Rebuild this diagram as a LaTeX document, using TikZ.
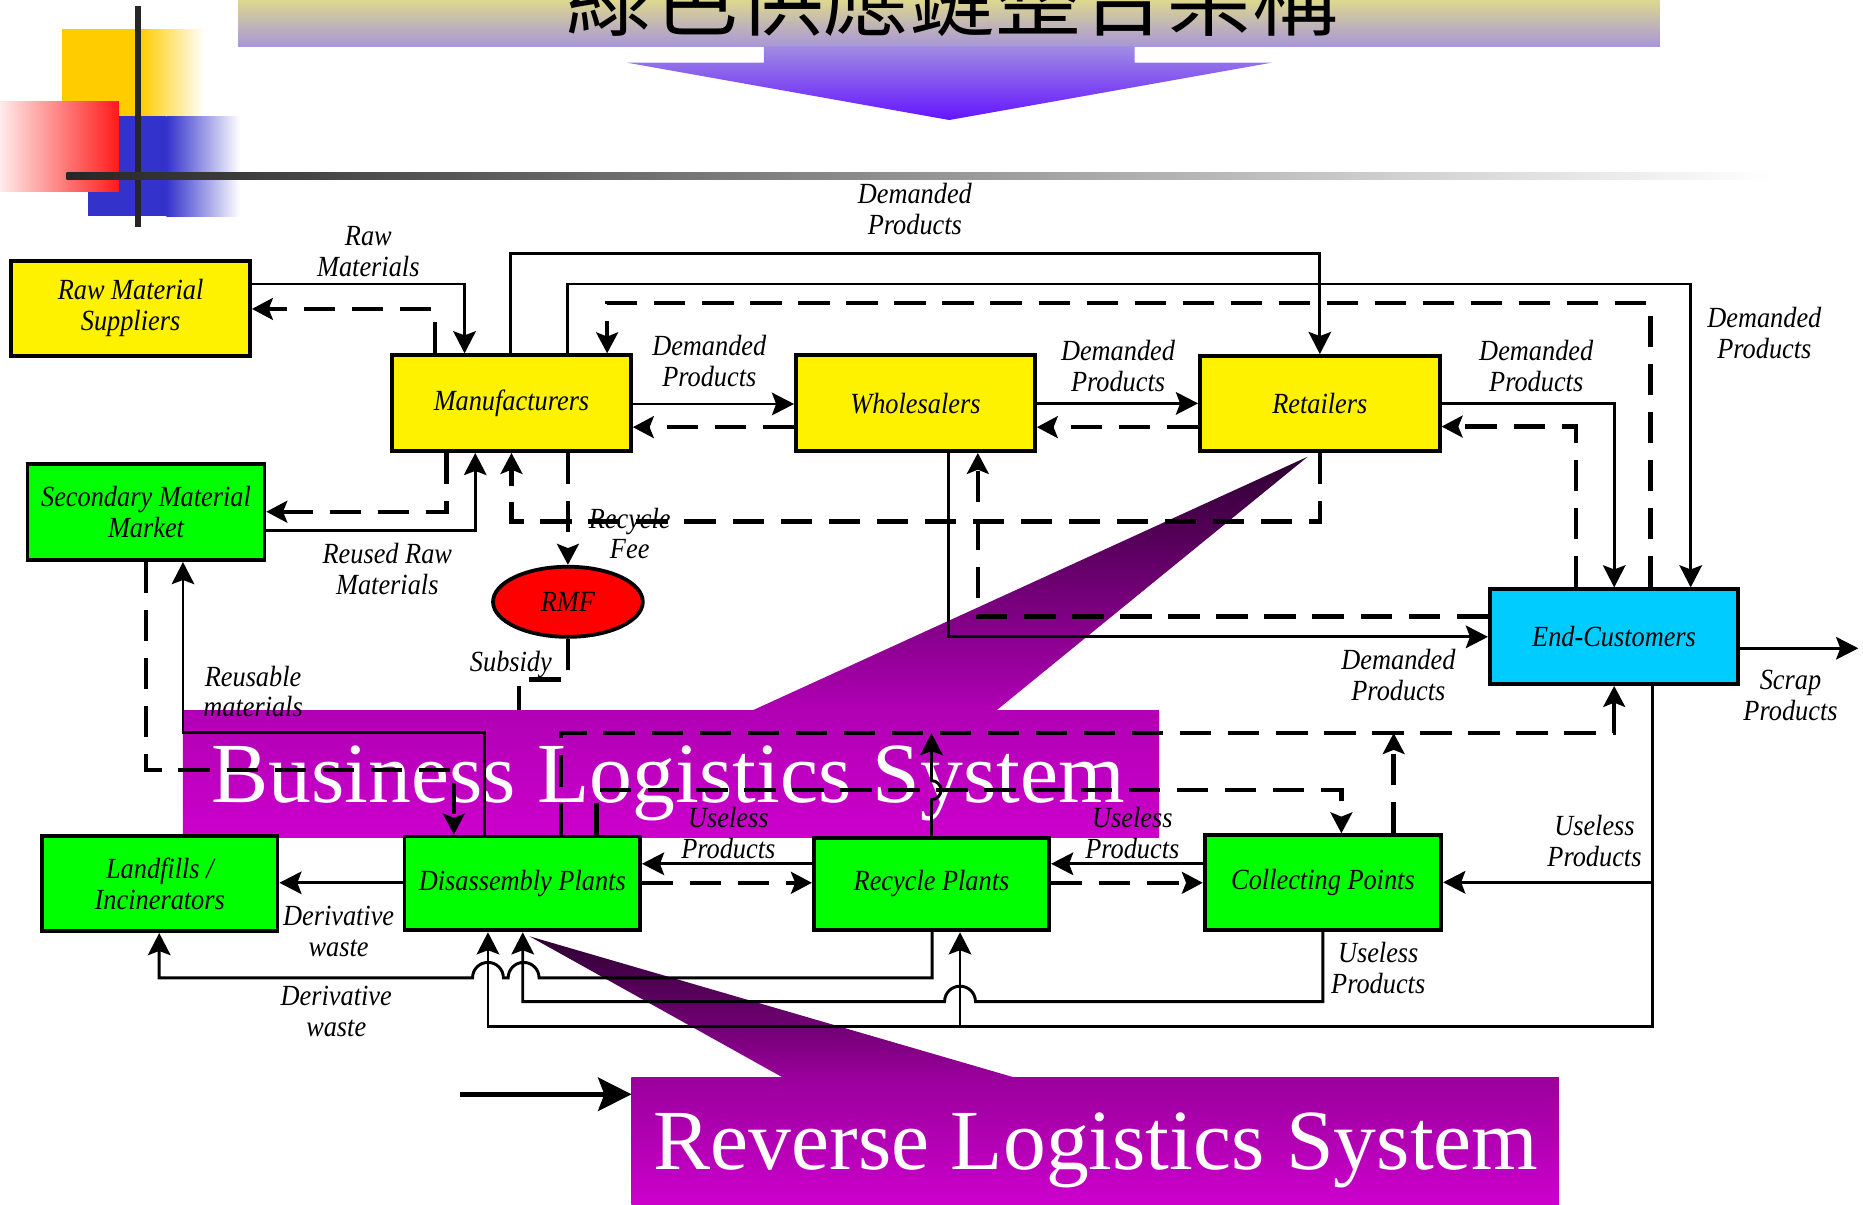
\documentclass[tikz,border=0pt]{standalone}
\usepackage{fontspec}
\setmainfont{Liberation Serif}
\newfontfamily\lbl[FakeStretch=0.9]{Liberation Serif}
\newfontfamily\cjk{Noto Sans CJK TC}
\usetikzlibrary{arrows.meta,shapes.geometric}
\definecolor{ttop}{HTML}{DDD88E}
\definecolor{tbot}{HTML}{A796DA}
\definecolor{atop}{HTML}{A08CE2}
\definecolor{abot}{HTML}{6414FF}
\definecolor{bltop}{HTML}{B000B4}
\definecolor{blbot}{HTML}{CC00CC}
\definecolor{rltop}{HTML}{9A009C}
\definecolor{rlbot}{HTML}{CC00CC}
\definecolor{tailc}{HTML}{2C0030}
\definecolor{ecblue}{HTML}{00CCFF}
\definecolor{decoyel}{HTML}{FFCC00}
\definecolor{decoblue}{HTML}{3333CC}
\definecolor{decored}{HTML}{FF1A1A}
\begin{document}
\begin{tikzpicture}[x=0.01cm,y=-0.01cm,
  stbox/.style={draw=black, line width=0.9pt, inner sep=0pt, align=center, font=\lbl\itshape\fontsize{7}{7.4}\selectfont},
  lab/.style={inner sep=0pt, align=center, font=\lbl\itshape\fontsize{7}{7.4}\selectfont},
  sol/.style={line width=0.7pt, -{Stealth[length=5.3pt,width=5.4pt,inset=1pt]}},
  dsh/.style={line width=1.05pt, dash pattern=on 7.5pt off 4pt, -{Stealth[length=5pt,width=5.2pt,inset=1pt]}},
  dshplain/.style={line width=1.05pt, dash pattern=on 7.5pt off 4pt},
  bigtxt/.style={text=white, inner sep=0pt, font=\fontsize{20.5}{24}\selectfont}
]
\useasboundingbox (0,0) rectangle (1568,1013.4);
\fill[white] (0,0) rectangle (1568,1013.4);

% decorations
\fill[decoyel] (52,24.4) rectangle (118,100);
\shade[left color=decoyel, right color=white] (118,24.4) rectangle (172,100);
\fill[decoblue] (74,98) rectangle (140,182);
\shade[left color=decoblue, right color=white] (140,98) rectangle (202,182);
\shade[left color=white!92!red, right color=decored] (0,85.5) rectangle (100,161);
\draw[line width=1.3pt, color=black!85] (116,5) -- (116,191);
\shade[left color=black!85, right color=white] (56,145) rectangle (1490,151);

% title
\shade[top color=ttop, bottom color=tbot] (200.5,0) rectangle (1397,39.3);
\shade[top color=atop, bottom color=abot] (643,39) -- (955,39) -- (955,52.8) -- (1070,52.8) -- (799,101) -- (528,52.8) -- (643,52.8) -- cycle;
\node[anchor=base, inner sep=0pt, font=\cjk\fontsize{20.5}{22}\selectfont] (title) at (801.5,24.5) {綠色供應鏈整合架構};

% callouts
\shade[top color=tailc, bottom color=bltop] (634,597.6) -- (1100.6,384.4) -- (839,597.6) -- cycle;
\shade[top color=bltop, bottom color=blbot] (154,597.6) rectangle (975.5,705);
\node[bigtxt, anchor=base] (bls) at (562.5,675) {Business Logistics System};
\shade[top color=tailc, bottom color=rltop] (445.5,788) -- (660,907.5) -- (856,907.5) -- cycle;
\shade[top color=rltop, bottom color=rlbot] (531.5,907) rectangle (1312,1014);
\node[bigtxt, anchor=base] (rls) at (922.5,984) {Reverse Logistics System};
\coordinate (revleft) at (531.5,921);

% boxes
\node[stbox, fill=yellow, minimum width=2.01cm, minimum height=0.802cm] (rms) at (109.9,259.5) {Raw Material\\Suppliers};
\node[stbox, fill=yellow, minimum width=2.01cm, minimum height=0.806cm] (man) at (430.5,339.3) {Manufacturers};
\node[stbox, fill=yellow, minimum width=2.01cm, minimum height=0.806cm] (wh) at (770.5,339.3) {Wholesalers};
\node[stbox, fill=yellow, minimum width=2.017cm, minimum height=0.80cm] (ret) at (1110.85,339.6) {Retailers};
\node[stbox, fill=green, minimum width=1.992cm, minimum height=0.806cm] (smm) at (122.9,431.1) {Secondary Material\\Market};
\node[stbox, fill=ecblue, minimum width=2.09cm, minimum height=0.797cm] (ec) at (1358.5,535.85) {End-Customers};
\node[stbox, fill=green, minimum width=1.98cm, minimum height=0.80cm] (lf) at (134.5,743.65) {Landfills /\\Incinerators};
\node[stbox, fill=green, minimum width=1.982cm, minimum height=0.79cm] (dis) at (439.6,743.5) {Disassembly Plants};
\node[stbox, fill=green, minimum width=1.98cm, minimum height=0.78cm] (rec) at (784,744) {Recycle Plants};
\node[stbox, fill=green, minimum width=1.99cm, minimum height=0.80cm] (cp) at (1113.5,743) {Collecting Points};
\node[stbox, ellipse, fill=red, minimum width=1.26cm, minimum height=0.59cm] (rmf) at (478,506.5) {RMF};

\coordinate (scrapend) at (1564,545.6);
\coordinate (subend) at (437,597.6);
\coordinate (recup) at (784,617);
\coordinate (cpup) at (1173,617);
\coordinate (legstart) at (387.5,921);

% solid connectors
\draw[sol] (rms.east |- 0,239) -| (man.north -| 391,0);
\draw[sol] (man.north -| 430,0) |- (1110.85,213) -- (ret.north);
\draw[sol] (man.north -| 478,0) |- (1423,239) -- (ec.north -| 1423,0);
\draw[sol] (man.east |- 0,340) -- (wh.west |- 0,340);
\draw[sol] (wh.east |- 0,339.5) -- (ret.west |- 0,339.5);
\draw[sol] (ret.east |- 0,339.5) -| (ec.north -| 1358.6,0);
\draw[sol] (wh.south -| 798,0) |- (ec.west |- 0,536);
\draw[sol] (ec.east |- 0,545.6) -- (scrapend);
\draw[sol] (smm.east |- 0,446.7) -| (man.south -| 400,0);
\draw[sol] (dis.north -| 408,0) |- (154,616.7) -- (smm.south -| 154,0);
\draw[sol] (rec.west |- 0,727) -- (dis.east |- 0,727);
\draw[sol] (cp.west |- 0,727) -- (rec.east |- 0,727);
\draw[sol] (ec.south -| 1390.6,0) |- (410.7,864) -- (dis.south -| 410.7,0);
\draw[sol] (ec.south -| 1390.6,0) |- (cp.east |- 0,742.6);
\draw[sol] (ec.south -| 1390.6,0) |- (808,864) -- (rec.south -| 808,0);
\draw[sol] (rec.south -| 784.5,0) -- (784.5,823) -- (453.7,823)
   arc[start angle=360,end angle=180,x radius=13,y radius=13] -- (423.7,823)
   arc[start angle=360,end angle=180,x radius=13,y radius=13] -- (134,823) -- (lf.south -| 134,0);
\draw[sol] (cp.south -| 1113.4,0) -- (1113.4,843) -- (821,843)
   arc[start angle=360,end angle=180,x radius=13,y radius=13] -- (440,843) -- (dis.south -| 440,0);
\draw[sol] (dis.west |- 0,743) -- (lf.east |- 0,743);
\draw[sol] (rec.north) -- (784,673) arc[start angle=90,end angle=-90,x radius=8,y radius=8] -- (recup);
\draw[line width=1.1pt, -{Stealth[length=8pt,width=8pt,inset=1.5pt]}] (legstart) -- (revleft);

% dashed connectors
\draw[dsh] (man.north -| 366,0) |- (rms.east |- 0,260);
\draw[dsh] (ec.north -| 1389,0) |- (511,255) -- (man.north -| 511,0);
\draw[dsh] (wh.west |- 0,359.5) -- (man.east |- 0,359.5);
\draw[dsh] (ret.west |- 0,359.5) -- (wh.east |- 0,359.5);
\draw[dsh] (ec.north -| 1326.6,0) |- (ret.east |- 0,359);
\draw[dsh] (ec.west |- 0,519) -| (wh.south -| 823,0);
\draw[dsh] (ret.south) |- (430.5,439) -- (man.south);
\draw[dsh] (man.south -| 478,0) -- (rmf.north);
\draw[dsh] (man.south -| 375.7,0) |- (smm.east |- 0,430.7);
\draw[dshplain] (rmf.south) |- (437,572) -- (subend);
\draw[dsh] (smm.south -| 123,0) |- (382,648) -- (dis.north -| 382,0);
\draw[dsh] (dis.north -| 472,0) |- (1358.6,617) -- (ec.south -| 1358.6,0);
\draw[dsh] (dis.north -| 502,0) |- (1129,665) -- (cp.north -| 1129,0);
\draw[dsh] (cp.north -| 1173,0) -- (cpup);
\draw[dsh] (dis.east |- 0,743) -- (rec.west |- 0,743);
\draw[dsh] (rec.east |- 0,743) -- (cp.west |- 0,743);

% labels
\node[lab] (l1) at (310,212) {Raw\\Materials};
\node[lab] (l2) at (770,176) {Demanded\\Products};
\node[lab] (l3) at (597,304) {Demanded\\Products};
\node[lab] (l4) at (941,308) {Demanded\\Products};
\node[lab] (l5) at (1293,308) {Demanded\\Products};
\node[lab] (l6) at (1485,280) {Demanded\\Products};
\node[lab] (l7) at (1177,568) {Demanded\\Products};
\node[lab] (l8) at (1507,585) {Scrap\\Products};
\node[lab] (l9) at (326,479) {Reused Raw\\Materials};
\node[lab] (l10) at (530,449) {Recycle\\Fee};
\node[lab] (l11) at (430,559) {Subsidy};
\node[lab] (l12) at (213,582) {Reusable\\materials};
\node[lab] (l13) at (613,701) {Useless\\Products};
\node[lab] (l14) at (953,701) {Useless\\Products};
\node[lab] (l15) at (1342,708) {Useless\\Products};
\node[lab] (l16) at (1160,815) {Useless\\Products};
\node[lab] (l17) at (285,784) {Derivative\\waste};
\node[lab] (l18) at (283,851) {Derivative\\waste};
\end{tikzpicture}
\end{document}
